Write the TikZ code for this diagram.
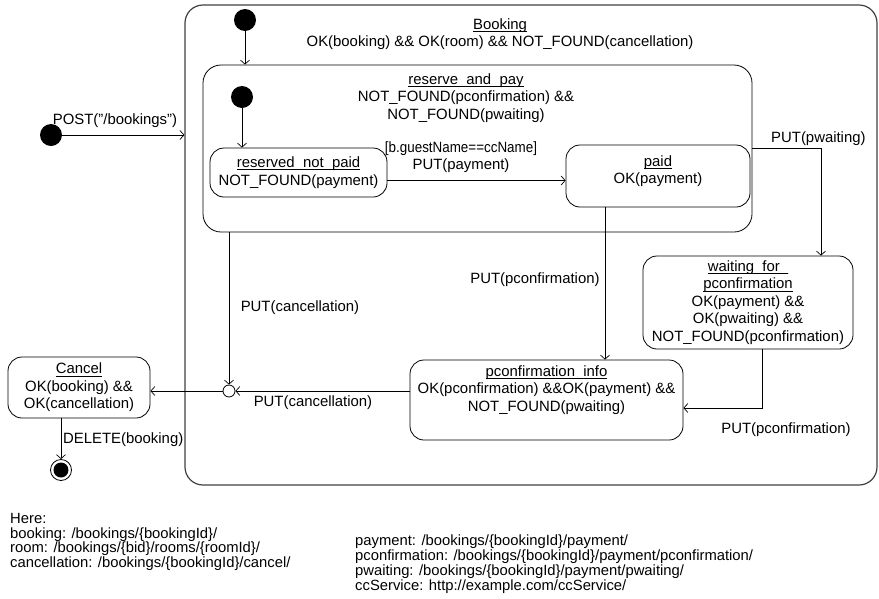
\documentclass[tikz,border=0pt]{standalone}
\usepackage{fontspec}
\setmainfont{Liberation Sans}
\usetikzlibrary{arrows.meta,positioning,calc}

% underline at a fixed depth, independent of descenders
\newcommand\stname[1]{\leavevmode\setbox0\hbox{#1}\rlap{\rule[-2.3pt]{\wd0}{0.75pt}}\box0}

\begin{document}
\begin{tikzpicture}[x=1pt,y=-1pt,
  every node/.style={font=\fontsize{14.9}{17.4}\selectfont, inner sep=0pt},
  line/.style={draw=black, line width=0.8pt},
  arr/.style={line, -{Straight Barb[length=4pt,width=9pt,line width=0.7pt]}},
  statebox/.style={line, rounded corners=14pt, align=center},
  compbox/.style={line, rounded corners=18pt},
  initst/.style={circle, fill=black, minimum size=22pt},
  lbl/.style={align=center},
  legend/.style={align=left, anchor=north west, font=\fontsize{14.8}{14.7}\selectfont}
]
\useasboundingbox (0,0) rectangle (879,598);

% composite state Booking
\node[compbox, draw=black!75, line width=1.2pt, minimum width=692pt, minimum height=480pt] (booking) at (531,245) {};
\node[lbl] (bookingtitle) at (500,34) {\stname{Booking}\\OK(booking) \&\& OK(room) \&\& NOT\_FOUND(cancellation)};
\node[initst] (bookinginit) at (245,20) {};

% composite state reserve_and_pay
\node[compbox, minimum width=549pt, minimum height=167pt] (rap) at (477.5,148.5) {};
\node[lbl] (raptitle) at (466,98) {\stname{reserve\_and\_pay}\\NOT\_FOUND(pconfirmation) \&\&\\NOT\_FOUND(pwaiting)};
\node[initst] (rapinit) at (242,97) {};

% simple states
\node[statebox, minimum width=177pt, minimum height=49pt] (rnp) at (298.5,172.5)
  {\stname{reserved\_not\_paid}\\NOT\_FOUND(payment)};
\node[statebox, minimum width=184pt, minimum height=62pt] (paid) at (658,176) {};
\node[lbl] (paidtext) at (658,171) {\stname{paid}\\OK(payment)};
\node[statebox, minimum width=210pt, minimum height=93pt] (wait) at (748,302.5)
  {\stname{waiting\_for\_}\\\stname{pconfirmation}\\OK(payment) \&\&\\OK(pwaiting) \&\&\\NOT\_FOUND(pconfirmation)};
\node[statebox, minimum width=273pt, minimum height=80pt] (pinfo) at (546.5,400) {};
\node[lbl] (pinfotext) at (546.5,390) {\stname{pconfirmation\_info}\\OK(pconfirmation) \&\&OK(payment) \&\&\\NOT\_FOUND(pwaiting)};
\node[statebox, minimum width=142pt, minimum height=61pt] (cancel) at (79,387.5)
  {\stname{Cancel}\\OK(booking) \&\&\\OK(cancellation)};

% pseudo states
\node[initst] (postinit) at (51,135) {};
\node[circle, line, fill=white, minimum size=12pt] (junction) at (229,391) {};
\node[circle, line, minimum size=21pt] (final) at (61,470) {};
\node[circle, fill=black, minimum size=15pt] (finaldot) at (final.center) {};

% transitions
\draw[arr] (postinit) -- (postinit -| booking.west);
\node (postlbl) at (115,121) {POST("/bookings")};
\draw[arr] (bookinginit) -- (bookinginit |- rap.north);
\draw[arr] (rapinit) -- (rapinit |- rnp.north);
\draw[arr] ($(rnp.east)+(0,8)$) -- ($(rnp.east -| paid.west)+(0,8)$);
\node[lbl] (paylbl) at (461,157) {{\addfontfeatures{FakeStretch=0.9}[b.guestName==ccName]}\\PUT(payment)};
\coordinate (pwcorner) at (821,148);
\draw[arr] (rap.east |- pwcorner) -- (pwcorner) -- (pwcorner |- wait.north);
\node[anchor=south west] (pwlbl) at (771,146) {PUT(pwaiting)};
\draw[arr] (605,207) coordinate (paidout) -- (paidout |- pinfo.north);
\node (pclbl1) at (535,280) {PUT(pconfirmation)};
\coordinate (wcorner) at (762,408);
\draw[arr] (wcorner |- wait.south) -- (wcorner) -- (wcorner -| pinfo.east);
\node (pclbl2) at (786,430) {PUT(pconfirmation)};
\draw[arr] (junction |- rap.south) -- (junction.north);
\node (cclbl1) at (300,308) {PUT(cancellation)};
\draw[arr] (junction -| pinfo.west) -- (junction.east);
\node (cclbl2) at (313,403) {PUT(cancellation)};
\draw[arr] (junction.west) -- (junction -| cancel.east);
\draw[arr] (cancel.south -| final) -- (final.north);
\node[anchor=west] (dellbl) at (63,440) {DELETE(booking)};

% legend
\node[legend] (legleft) at (10,513) {Here:\\booking: /bookings/\{bookingId\}/\\room: /bookings/\{bid\}/rooms/\{roomId\}/\\cancellation: /bookings/\{bookingId\}/cancel/};
\node[legend] (legright) at (355,535) {payment: /bookings/\{bookingId\}/payment/\\pconfirmation: /bookings/\{bookingId\}/payment/pconfirmation/\\pwaiting: /bookings/\{bookingId\}/payment/pwaiting/\\ccService: http://example.com/ccService/};
\end{tikzpicture}
\end{document}
